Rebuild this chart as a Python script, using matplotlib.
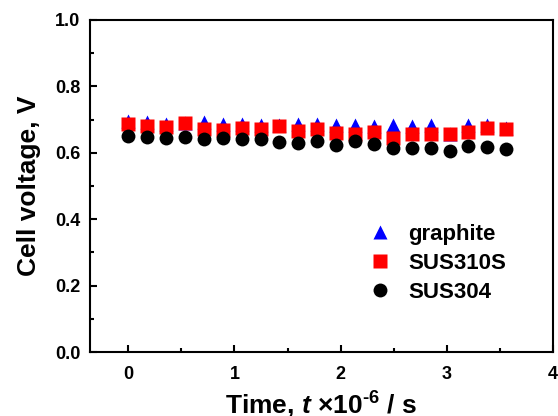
import matplotlib
matplotlib.use('Agg')
import matplotlib.pyplot as plt
from matplotlib.ticker import MultipleLocator

plt.rcParams['font.family'] = ['Liberation Sans', 'DejaVu Sans']
plt.rcParams['font.weight'] = 'bold'
plt.rcParams['mathtext.fontset'] = 'custom'
plt.rcParams['mathtext.rm'] = 'Liberation Sans:bold'
plt.rcParams['mathtext.it'] = 'Liberation Sans:italic:bold'
plt.rcParams['mathtext.bf'] = 'Liberation Sans:bold'

### data (time x 10^-6 s, cell voltage V)
time = [0.00, 0.18, 0.36, 0.53, 0.71, 0.89, 1.07, 1.25, 1.42, 1.60, 1.78,
        1.96, 2.14, 2.31, 2.49, 2.67, 2.85, 3.03, 3.20, 3.38, 3.56]
graphite = [0.697, 0.693, 0.687, 0.690, 0.693, 0.687, 0.687, 0.683, 0.685, 0.687, 0.687,
            0.685, 0.683, 0.681, 0.685, 0.681, 0.685, 0.656, 0.683, 0.683, 0.675]
sus310s = [0.687, 0.681, 0.678, 0.690, 0.671, 0.668, 0.676, 0.671, 0.681, 0.666, 0.671,
           0.661, 0.658, 0.663, 0.646, 0.656, 0.658, 0.658, 0.664, 0.674, 0.671]
sus304 = [0.651, 0.648, 0.646, 0.648, 0.643, 0.646, 0.641, 0.641, 0.631, 0.629, 0.636,
          0.624, 0.634, 0.626, 0.614, 0.613, 0.613, 0.606, 0.621, 0.616, 0.611]

fig = plt.figure(figsize=(5.58, 4.16), dpi=100)
ax = fig.add_axes([0.1613, 0.1538, 0.8297, 0.7982])

ax.plot(time, graphite, linestyle='none', marker='^', ms=9.5, color='#0000FF',
        mec='none', label='graphite', zorder=3)
ax.plot(time, sus310s, linestyle='none', marker='s', ms=10, color='#FF0000',
        mec='none', label='SUS310S', zorder=4)
ax.plot(time, sus304, linestyle='none', marker='o', ms=10, color='black',
        mec='none', label='SUS304', zorder=5)

ax.set_xlim(-0.36, 4.0)
ax.set_ylim(0.0, 1.0)
ax.xaxis.set_major_locator(MultipleLocator(1))
ax.xaxis.set_minor_locator(MultipleLocator(0.5))
ax.yaxis.set_major_locator(MultipleLocator(0.2))
ax.yaxis.set_minor_locator(MultipleLocator(0.1))
ax.yaxis.set_major_formatter(plt.FormatStrFormatter('%.1f'))

for s in ax.spines.values():
    s.set_linewidth(1.5)
ax.tick_params(which='both', direction='in', width=1.5, labelsize=13, pad=7)
ax.tick_params(axis='x', which='major', pad=10)
ax.tick_params(which='major', length=5)
ax.tick_params(which='minor', length=3)

ax.set_xlabel(r'Time, $t$ $\times$10$^{\text{-6}}$ / s', fontsize=19, fontweight='bold', labelpad=5)
ax.set_ylabel('Cell voltage, V', fontsize=19, fontweight='bold', labelpad=10)

ax.legend(loc='upper left', bbox_to_anchor=(0.598, 0.385), frameon=False, fontsize=16,
          handletextpad=0.65, labelspacing=0.35, handlelength=1.2,
          borderaxespad=0, borderpad=0)

fig.savefig('out.png', dpi=100)
